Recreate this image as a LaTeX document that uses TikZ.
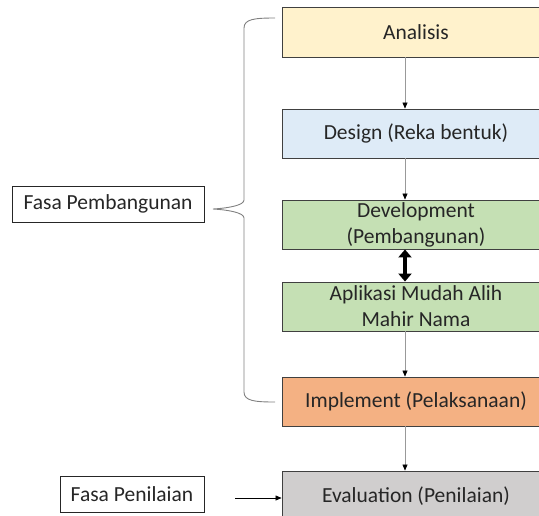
\documentclass[tikz,border=0pt]{standalone}
\usepackage{fontspec}
\setmainfont{Carlito}
\usetikzlibrary{arrows.meta}
\definecolor{cyel}{HTML}{FFF2CC}
\definecolor{cblu}{HTML}{DEEBF7}
\definecolor{cgrn}{HTML}{C5E0B4}
\definecolor{corg}{HTML}{F4B183}
\definecolor{cgry}{HTML}{D0CECE}
\definecolor{cedge}{HTML}{404040}
\definecolor{ctxt}{HTML}{262626}
\tikzset{
  stagebox/.style={draw=cedge, line width=0.9pt, minimum width=268pt, align=center, inner sep=0pt, text=ctxt, font=\fontsize{21.5}{26}\selectfont},
  labelbox/.style={draw=ctxt, line width=0.9pt, fill=white, inner sep=0pt, text=ctxt, font=\fontsize{21.5}{26}\selectfont, minimum height=36pt},
  flowarr/.style={draw=gray!80, line width=0.6pt, -{Triangle[length=6pt,width=5pt,fill=black,color=black]}},
  bracestyle/.style={draw=gray, line width=0.9pt}
}
\begin{document}
\begin{tikzpicture}[x=1pt,y=-1pt]
\useasboundingbox (0,0) rectangle (539,515);
\clip (0,0) rectangle (539,515);
\node[stagebox, fill=cyel, minimum height=50pt] (an) at (416,32) {Analisis};
\node[stagebox, fill=cblu, minimum height=49pt] (de) at (416,133.5) {Design (Reka bentuk)};
\node[stagebox, fill=cgrn, minimum height=49pt] (dv) at (416,224.5) {Development\\(Pembangunan)};
\node[stagebox, fill=cgrn, minimum height=49pt] (ap) at (416,306.5) {Aplikasi Mudah Alih\\Mahir Nama};
\node[stagebox, fill=corg, minimum height=49pt] (im) at (416,401.5) {Implement (Pelaksanaan)};
\node[stagebox, fill=cgry, minimum height=50pt] (ev) at (416,496) {Evaluation (Penilaian)};
\coordinate (ax) at (405,0);
\draw[flowarr] (an.south -| ax) -- (de.north -| ax);
\draw[flowarr] (de.south -| ax) -- (dv.north -| ax);
\draw[flowarr] (ap.south -| ax) -- (im.north -| ax);
\draw[flowarr] (im.south -| ax) -- (ev.north -| ax);
\draw[line width=4pt, {Triangle[length=8pt,width=13pt]}-{Triangle[length=8pt,width=13pt]}] (dv.south -| ax) -- (ap.north -| ax);
\node[labelbox, minimum width=192pt] (fp) at (108,204) {Fasa Pembangunan};
\node[labelbox, minimum width=144pt] (fn) at (132,494) {Fasa Penilaian};
\coordinate (tip) at (213,209);
\draw[bracestyle] (275,18) .. controls (255,18) and (244,19) .. (244,28) -- (244,200) .. controls (244,205) and (230,208) .. (tip) .. controls (230,210) and (244,213) .. (244,218) -- (244,392) .. controls (244,401) and (255,402) .. (275,402);
\coordinate (fnend) at (235,498);
\draw[line width=0.6pt, -{Triangle[length=6pt,width=5pt]}] (fnend) -- (ev.west |- fnend);
\end{tikzpicture}
\end{document}
